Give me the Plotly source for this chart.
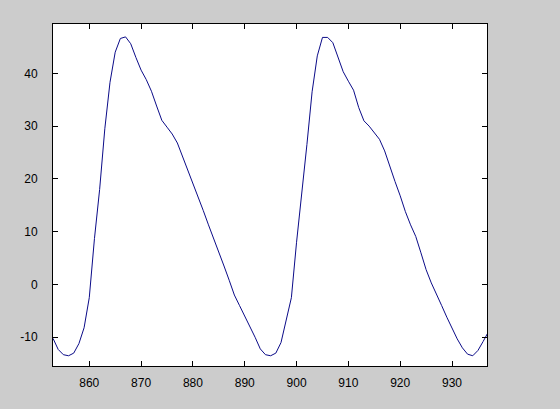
import plotly.graph_objects as go

x_vals = list(range(853, 938))
y_vals = [
    -10.2, -12.3, -13.3, -13.5, -13.0, -11.2, -8.2, -2.5, 8.7, 18.0,   # 853-862
    29.5, 38.3, 44.0, 46.6, 46.9, 45.6, 43.0, 40.6, 38.8, 36.6,       # 863-872
    33.8, 31.1, 29.8, 28.5, 26.8, 24.3, 21.5, 19.0, 16.8, 14.0,       # 873-882
    11.3, 8.8, 6.0, 3.5, 0.8, -2.0, -4.0, -6.0, -7.8, -10.0,          # 883-892
    -12.2, -13.3, -13.5, -13.0, -11.0, -7.0, -2.5, 8.0, 17.0, 26.5,   # 893-902
    36.5, 43.3, 46.8, 46.8, 45.8, 43.2, 40.3, 38.5, 36.8, 33.5,       # 903-912
    31.0, 30.0, 28.8, 27.5, 25.3, 22.3, 19.5, 16.8, 13.8, 11.3,       # 913-922
    9.1, 6.0, 2.8, 0.3, -2.0, -4.0, -6.2, -8.3, -10.3, -12.0,         # 923-932
    -13.2, -13.5, -12.5, -10.8, -9.0                                  # 933-937
]
x_ticks = [860, 870, 880, 890, 900, 910, 920, 930]
y_ticks = [-10, 0, 10, 20, 30, 40]

fig = go.Figure()
fig.add_trace(go.Scatter(x=x_vals, y=y_vals, mode="lines",
                         line=dict(color="#0b0b88", width=1),
                         showlegend=False, hoverinfo="skip"))

axis_common = dict(showgrid=False, zeroline=False, showline=True,
                   linecolor="black", linewidth=1, mirror="ticks",
                   ticks="inside", ticklen=5, tickcolor="black",
                   tickfont=dict(family="Liberation Sans, Arial", size=12, color="black"))

fig.update_xaxes(range=[853.0, 936.75], tickvals=x_ticks,
                 ticktext=[str(v) for v in x_ticks], ticklabelstandoff=6,
                 **axis_common)
fig.update_yaxes(range=[-15.44, 49.34], tickvals=y_ticks,
                 ticktext=[str(v) for v in y_ticks], ticklabelstandoff=12,
                 **axis_common)

fig.update_layout(width=560, height=409,
                  margin=dict(l=53, r=73, t=24, b=43),
                  paper_bgcolor="#cccccc", plot_bgcolor="white")

fig.write_html("out.html",
               config={"displayModeBar": False, "staticPlot": True},
               post_script="document.body.style.margin='0';"
                           "document.body.style.background='#cccccc';")
